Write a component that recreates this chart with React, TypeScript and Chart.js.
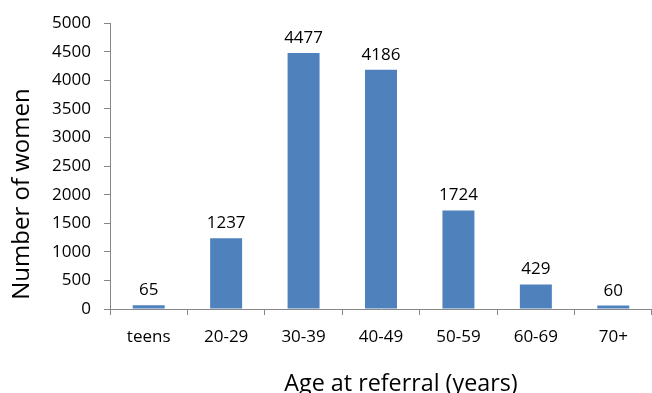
import React, { useEffect, useRef } from "react";
import { Chart, registerables } from "chart.js";

Chart.register(...registerables);

const categories = ["teens", "20-29", "30-39", "40-49", "50-59", "60-69", "70+"];
const womenCounts = [65, 1237, 4477, 4186, 1724, 429, 60];
const yTitle = "Number of women";
const xTitle = "Age at referral (years)";

const FONT = "'Open Sans', 'DejaVu Sans', sans-serif";

const labelsPlugin = {
  id: "valueLabels",
  afterDatasetsDraw(chart: any) {
    const ctx = chart.ctx;
    const meta = chart.getDatasetMeta(0);
    ctx.save();
    ctx.font = `17px ${FONT}`;
    ctx.fillStyle = "#000";
    ctx.textAlign = "center";
    ctx.textBaseline = "alphabetic";
    meta.data.forEach((el: any, i: number) => {
      ctx.fillText(String(chart.data.datasets[0].data[i]), el.x, el.y - 10);
    });
    ctx.restore();
  },
};

const titlesPlugin = {
  id: "axisTitles",
  afterDraw(chart: any) {
    const ctx = chart.ctx;
    ctx.save();
    ctx.fillStyle = "#000";
    ctx.textAlign = "center";
    ctx.textBaseline = "alphabetic";
    ctx.font = `23.3px ${FONT}`;
    ctx.fillText(xTitle, 401, 391);
    ctx.font = `24px ${FONT}`;
    ctx.translate(29, 194);
    ctx.rotate(-Math.PI / 2);
    ctx.fillText(yTitle, 0, 0);
    ctx.restore();
  },
};

export default function App() {
  const ref = useRef<HTMLCanvasElement>(null);
  useEffect(() => {
    document.body.style.margin = "0";
    const chart = new Chart(ref.current!, {
      type: "bar",
      data: {
        labels: categories,
        datasets: [
          {
            data: womenCounts,
            backgroundColor: "#4F81BD",
            barPercentage: 0.413,
            categoryPercentage: 1,
          },
        ],
      },
      options: {
        responsive: false,
        animation: false,
        maintainAspectRatio: false,
        layout: { padding: { top: 22, right: 0, left: 0, bottom: 0 } },
        plugins: { legend: { display: false }, tooltip: { enabled: false } },
        scales: {
          x: {
            grid: {
              drawOnChartArea: false,
              drawTicks: true,
              tickLength: 6,
              color: "#868686",
              offset: true,
            },
            border: { color: "#868686" },
            ticks: { color: "#000", font: { family: FONT, size: 17 }, padding: 12 },
            afterFit(scale: any) {
              scale.height = 84;
            },
          },
          y: {
            min: 0,
            max: 5000,
            grid: {
              drawOnChartArea: false,
              drawTicks: true,
              tickLength: 6,
              color: "#868686",
            },
            border: { color: "#868686" },
            ticks: {
              stepSize: 500,
              color: "#000",
              font: { family: FONT, size: 17 },
              padding: 13,
              callback: (v: any) => String(v),
            },
            afterFit(scale: any) {
              scale.width = 110;
            },
          },
        },
      },
      plugins: [labelsPlugin, titlesPlugin],
    });
    return () => chart.destroy();
  }, []);
  return (
    <div style={{ width: 652, height: 393 }}>
      <canvas ref={ref} width={652} height={393} style={{ display: "block" }} />
    </div>
  );
}
